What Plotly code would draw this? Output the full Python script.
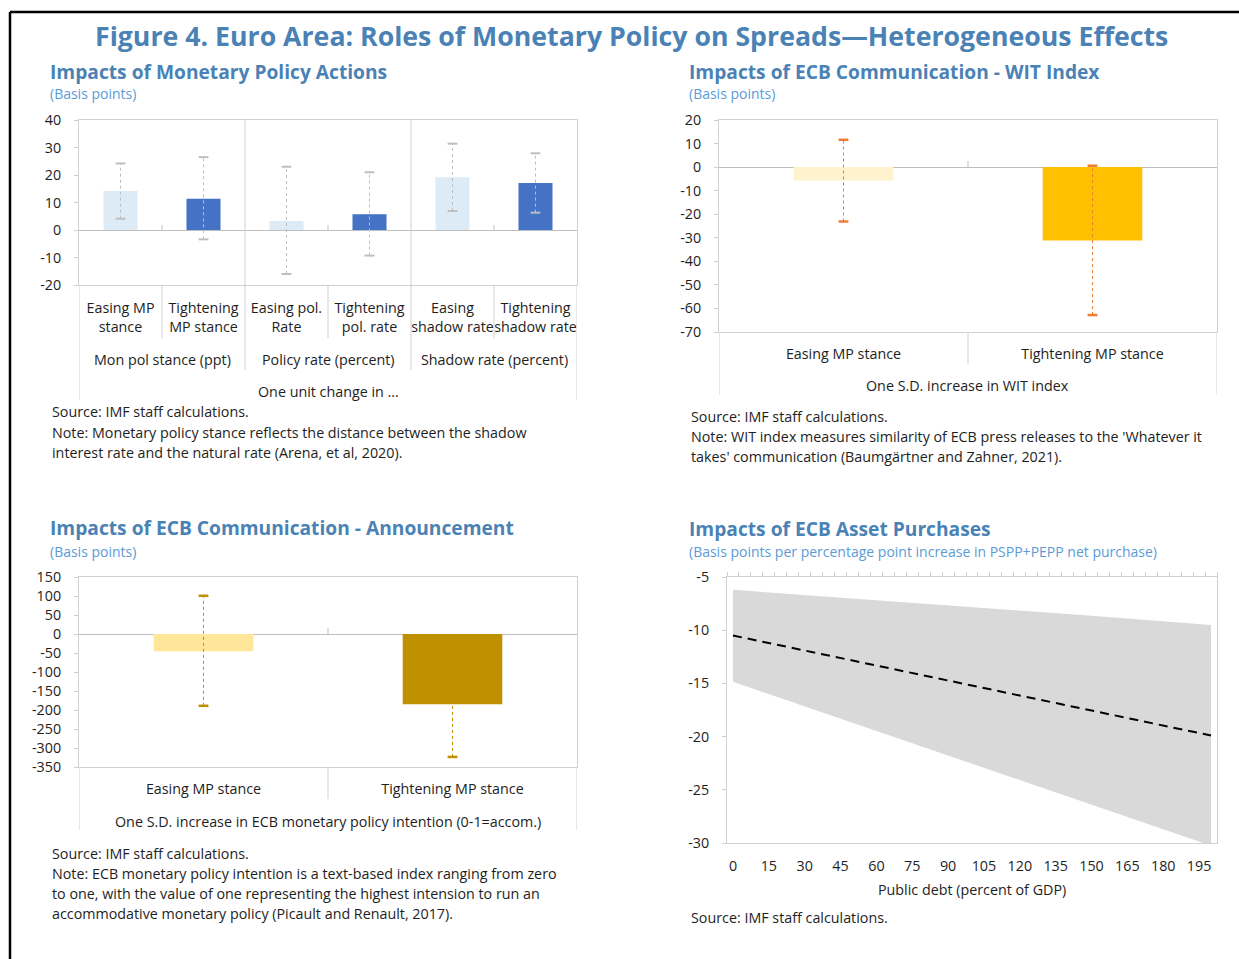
import plotly.graph_objects as go

W, H = 1239, 959


def px(x):
    return x / W


def py(y):
    return 1 - y / H


# ---------------- data ----------------
# Panel 1: Impacts of Monetary Policy Actions
p1_cats = ["Easing MP<br>stance", "Tightening<br>MP stance", "Easing pol.<br>Rate",
           "Tightening<br>pol. rate", "Easing<br>shadow rate", "Tightening<br>shadow rate"]
p1_groups = ["Mon pol stance (ppt)", "Policy rate (percent)", "Shadow rate (percent)"]
p1_vals = [14.2, 11.4, 3.3, 5.7, 19.2, 17.1]
p1_low = [4.1, -3.4, -16.0, -9.3, 6.9, 6.3]
p1_high = [24.2, 26.5, 23.0, 21.0, 31.4, 27.9]
p1_colors = ["#DDEBF7", "#4472C4", "#DDEBF7", "#4472C4", "#DDEBF7", "#4472C4"]
p1_yticks = [-20, -10, 0, 10, 20, 30, 40]

# Panel 2: Impacts of ECB Communication - WIT Index
p2_cats = ["Easing MP stance", "Tightening MP stance"]
p2_vals = [-5.7, -31.2]
p2_low = [-23.1, -62.8]
p2_high = [11.6, 0.6]
p2_colors = ["#FFF2CC", "#FFC000"]
p2_yticks = [-70, -60, -50, -40, -30, -20, -10, 0, 10, 20]

# Panel 3: Impacts of ECB Communication - Announcement
p3_cats = ["Easing MP stance", "Tightening MP stance"]
p3_vals = [-45.5, -184.6]
p3_low = [-189.0, -323.5]
p3_high = [100.6, None]
p3_colors = ["#FFE699", "#BF9000"]
p3_yticks = [-350, -300, -250, -200, -150, -100, -50, 0, 50, 100, 150]

# Panel 4: Impacts of ECB Asset Purchases
p4_debt = [0, 50, 100, 150, 200]
p4_mid = [-10.5, -12.85, -15.2, -17.55, -19.9]
p4_upper = [-6.2, -7.0, -7.85, -8.65, -9.5]
p4_lower = [-14.85, -18.7, -22.55, -26.4, -30.25]
p4_xticks = [0, 15, 30, 45, 60, 75, 90, 105, 120, 135, 150, 165, 180, 195]
p4_yticks = [-30, -25, -20, -15, -10, -5]

FONT = "Open Sans"
TXT = "#1E1E1E"
TITLE_C = "#4A82B5"
SUB_C = "#5B9BD5"
BOX_C = "#D0D0D0"
ZERO_C = "#BFBFBF"
FS = 14.3

fig = go.Figure()


def add_bar_panel(n, cats, vals, low, high, colors, ecolor, ewidth):
    xa = "x" if n == 1 else f"x{n}"
    ya = "y" if n == 1 else f"y{n}"
    fig.add_trace(go.Bar(x=cats, y=vals, marker=dict(color=colors, line=dict(width=0)),
                         width=0.41 if n == 1 else 0.4, xaxis=xa, yaxis=ya,
                         showlegend=False, hoverinfo="skip"))
    ex, ey = [], []
    cx, cy = [], []
    for c, v, lo, hi in zip(cats, vals, low, high):
        top = hi if hi is not None else v
        ex += [c, c, None]
        ey += [lo, top, None]
        cx.append(c)
        cy.append(lo)
        if hi is not None:
            cx.append(c)
            cy.append(hi)
    fig.add_trace(go.Scatter(x=ex, y=ey, mode="lines", xaxis=xa, yaxis=ya,
                             line=dict(color=ecolor, width=1, dash="dot"),
                             showlegend=False, hoverinfo="skip"))
    fig.add_trace(go.Scatter(x=cx, y=cy, mode="markers", xaxis=xa, yaxis=ya,
                             marker=dict(symbol="line-ew", size=7,
                                         line=dict(color=ecolor, width=ewidth)),
                             showlegend=False, hoverinfo="skip"))


add_bar_panel(1, p1_cats, p1_vals, p1_low, p1_high, p1_colors, "#BFBFBF", 2)
add_bar_panel(2, p2_cats, p2_vals, p2_low, p2_high, p2_colors, "#ED7D31", 2.5)
add_bar_panel(3, p3_cats, p3_vals, p3_low, p3_high, p3_colors, "#BF9000", 2.5)

# Panel 4 band + line
fig.add_trace(go.Scatter(x=p4_debt, y=p4_upper, mode="lines", line=dict(width=0),
                         xaxis="x4", yaxis="y4", showlegend=False, hoverinfo="skip"))
fig.add_trace(go.Scatter(x=p4_debt, y=p4_lower, mode="lines", line=dict(width=0),
                         fill="tonexty", fillcolor="#D9D9D9",
                         xaxis="x4", yaxis="y4", showlegend=False, hoverinfo="skip"))
fig.add_trace(go.Scatter(x=p4_debt, y=p4_mid, mode="lines",
                         line=dict(color="black", width=2, dash="9px,6px"),
                         xaxis="x4", yaxis="y4", showlegend=False, hoverinfo="skip"))
# invisible trace to activate top tick axis
fig.add_trace(go.Scatter(x=[p4_debt[0]], y=[p4_mid[0]], mode="markers", opacity=0,
                         xaxis="x5", yaxis="y4", showlegend=False, hoverinfo="skip"))


def yax(anchor, y_top, y_bot, rng, ticks):
    return dict(domain=[py(y_bot), py(y_top)], range=rng, tickvals=ticks,
                ticktext=[str(t) for t in ticks], anchor=anchor, automargin=False,
                showline=True, mirror=True, linecolor=BOX_C, linewidth=1,
                ticks="outside", ticklen=4, tickcolor=BOX_C,
                showgrid=False, zeroline=True, zerolinecolor=ZERO_C, zerolinewidth=1,
                tickfont=dict(family=FONT, size=FS, color=TXT), ticklabelstandoff=10,
                fixedrange=True)


def xax_cat(x0, x1, cats, anchor, standoff):
    return dict(domain=[px(x0), px(x1)], type="category", categoryorder="array",
                categoryarray=cats, range=[-0.5, len(cats) - 0.5], tickangle=0,
                showline=True, mirror=True, linecolor=BOX_C, linewidth=1,
                ticks="", showgrid=False, zeroline=False, anchor=anchor, automargin=False,
                tickfont=dict(family=FONT, size=FS, color=TXT),
                ticklabelstandoff=standoff, fixedrange=True)


fig.update_layout(
    width=W, height=H, autosize=False, margin=dict(l=0, r=0, t=0, b=0, pad=0),
    paper_bgcolor="white", plot_bgcolor="white",
    font=dict(family=FONT, color=TXT),
    xaxis=xax_cat(79, 577, p1_cats, "y", 10),
    yaxis=yax("x", 120, 285, [-20, 40], p1_yticks),
    xaxis2=xax_cat(719, 1217, p2_cats, "y2", 9),
    yaxis2=yax("x2", 120, 332, [-70, 20], p2_yticks),
    xaxis3=xax_cat(79, 577, p3_cats, "y3", 9),
    yaxis3=yax("x3", 577, 767, [-350, 150], p3_yticks),
    xaxis4=dict(domain=[px(727), px(1217)], range=[-2.5, 202.5], tickvals=p4_xticks,
                showline=True, mirror=True, linecolor=BOX_C, linewidth=1, ticks="",
                showgrid=False, zeroline=False, anchor="y4", tickangle=0, automargin=False,
                tickfont=dict(family=FONT, size=FS, color=TXT), ticklabelstandoff=10,
                fixedrange=True),
    xaxis5=dict(overlaying="x4", side="top", anchor="y4", range=[-2.5, 202.5],
                tickmode="linear", tick0=-2.5, dtick=5, ticks="outside", ticklen=4,
                tickcolor=BOX_C, showticklabels=False, showline=True, linecolor=BOX_C,
                showgrid=False, zeroline=False, fixedrange=True, automargin=False),
    yaxis4=dict(domain=[py(843), py(577)], range=[-30, -5], tickvals=p4_yticks,
                ticktext=[str(t) for t in p4_yticks],
                showline=True, mirror=True, linecolor=BOX_C, linewidth=1,
                ticks="outside", ticklen=4, tickcolor=BOX_C, showgrid=False,
                zeroline=False, anchor="x4", automargin=False,
                tickfont=dict(family=FONT, size=FS, color=TXT), ticklabelstandoff=10,
                fixedrange=True),
)

shapes = []
# frame around the figure
shapes.append(dict(type="line", xref="paper", yref="paper", x0=px(10), x1=px(10),
                   y0=0, y1=py(12), line=dict(color="black", width=2.5)))
shapes.append(dict(type="line", xref="paper", yref="paper", x0=px(10), x1=1,
                   y0=py(12), y1=py(12), line=dict(color="black", width=2.5)))


def vline(xref, x, ytop, ybot, color=BOX_C):
    shapes.append(dict(type="line", xref=xref, yref="paper", x0=x, x1=x,
                       y0=py(ybot), y1=py(ytop), line=dict(color=color, width=1)))


# Panel 1 separators
for xv in [1.5, 3.5]:
    vline("x", xv, 120, 370)
for xv in [0.5, 2.5, 4.5]:
    vline("x", xv, 285, 338)
    vline("x", xv, 225, 230, ZERO_C)
vline("x", -0.5, 285, 400)
vline("x", 5.5, 285, 400)
# Panel 2 separators
vline("x2", 0.5, 332, 364)
vline("x2", 0.5, 161, 167, ZERO_C)
vline("x2", -0.5, 332, 395)
vline("x2", 1.5, 332, 395)
# Panel 3 separators
vline("x3", 0.5, 767, 799)
vline("x3", 0.5, 628, 634, ZERO_C)
vline("x3", -0.5, 767, 830)
vline("x3", 1.5, 767, 830)

fig.update_layout(shapes=shapes)

ann = []


def text(x, y, s, size=FS, color=TXT, bold=False, anchor="left", xref="paper"):
    ann.append(dict(x=x if xref != "paper" else px(x), y=py(y), xref=xref, yref="paper",
                    text=f"<b>{s}</b>" if bold else s, showarrow=False,
                    xanchor=anchor, yanchor="middle",
                    font=dict(family=FONT, size=size, color=color)))


text(631, 36, "Figure 4. Euro Area: Roles of Monetary Policy on Spreads\u2014Heterogeneous Effects",
     size=26.7, color=TITLE_C, bold=True, anchor="center")

text(48, 71, "Impacts of Monetary Policy Actions", size=19.2, color=TITLE_C, bold=True)
text(48, 94, "(Basis points)", size=14, color=SUB_C)
text(687, 71, "Impacts of ECB Communication - WIT Index", size=19.2, color=TITLE_C, bold=True)
text(687, 94, "(Basis points)", size=14, color=SUB_C)
text(48, 527, "Impacts of ECB Communication - Announcement", size=19.2, color=TITLE_C, bold=True)
text(48, 551, "(Basis points)", size=14, color=SUB_C)
text(687, 528, "Impacts of ECB Asset Purchases", size=19.2, color=TITLE_C, bold=True)
text(687, 551, "(Basis points per percentage point increase in PSPP+PEPP net purchase)",
     size=14, color=SUB_C)

# group labels panel 1
for i, g in enumerate(p1_groups):
    text(2 * i + 0.5, 359, g, anchor="center", xref="x")
text(2.5, 391, "One unit change in ...", anchor="center", xref="x")
text(0.5, 386, "One S.D. increase in WIT index", anchor="center", xref="x2")
text(0.5, 821, "One S.D. increase in ECB monetary policy intention (0-1=accom.)",
     anchor="center", xref="x3")
text(972, 889, "Public debt (percent of GDP)", anchor="center")

# notes
text(50, 412, "Source: IMF staff calculations.")
text(50, 432, "Note: Monetary policy stance reflects the distance between the shadow")
text(50, 452, "interest rate and the natural rate (Arena, et al, 2020).")
text(689, 416, "Source: IMF staff calculations.")
text(689, 436, "Note: WIT index measures similarity of ECB press releases to the 'Whatever it")
text(689, 456, "takes' communication (Baumgärtner and Zahner, 2021).")
text(50, 853, "Source: IMF staff calculations.")
text(50, 873, "Note: ECB monetary policy intention is a text-based index ranging from zero")
text(50, 893, "to one, with the value of one representing the highest intension to run an")
text(50, 913, "accommodative monetary policy (Picault and Renault, 2017).")
text(689, 917, "Source: IMF staff calculations.")

fig.update_layout(annotations=ann)

fig.write_html("out.html",
               post_script="document.body.style.margin='0';document.body.style.overflow='hidden';",
               config={"displayModeBar": False, "responsive": False})
